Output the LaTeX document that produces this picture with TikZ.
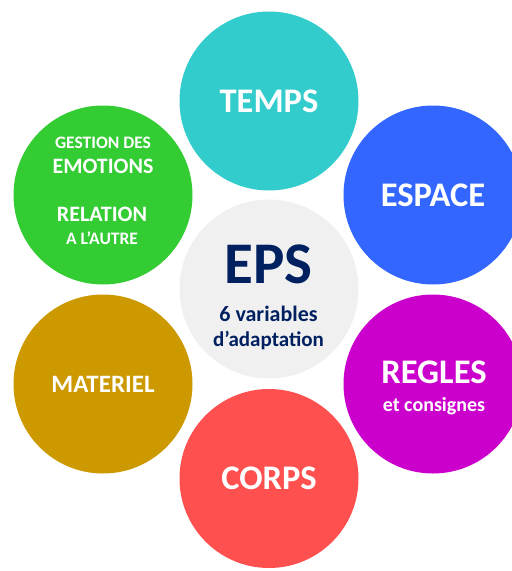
\documentclass[tikz,border=0pt]{standalone}
\usepackage{fontspec}
\setmainfont{Carlito}
\usetikzlibrary{positioning}

\definecolor{cTemps}{HTML}{33CCCC}
\definecolor{cEspace}{HTML}{3366FF}
\definecolor{cRegles}{HTML}{CC00CC}
\definecolor{cCorps}{HTML}{FF5050}
\definecolor{cMateriel}{HTML}{CC9900}
\definecolor{cEmotions}{HTML}{33CC33}
\definecolor{cCentre}{HTML}{F0F0F0}
\definecolor{cNavy}{HTML}{002060}

\newcommand{\fsz}[1]{\fontsize{#1}{1.2\dimexpr #1pt\relax}\selectfont}

\begin{document}
\begin{tikzpicture}[x=1pt,y=-1pt,
    bubble/.style={circle,minimum size=179pt,inner sep=0pt,text=white,font=\bfseries\fsz{34.5}},
    txt/.style={anchor=base,inner sep=0pt,text=white,font=\bfseries}]

     \clip (0,0) rectangle (512,571);

     % ring of variables
     \node[bubble, fill=cTemps]    (temps)    at (269,101)   {TEMPS};
     \node[bubble, fill=cEspace]   (espace)   at (433,195)   {ESPACE};
     \node[bubble, fill=cRegles]   (regles)   at (433,384)   {};
     \node[bubble, fill=cCorps]    (corps)    at (269,478.5) {CORPS};
     \node[bubble, fill=cMateriel, font=\bfseries\fsz{25}] (materiel) at (103,384) {MATERIEL};
     \node[bubble, fill=cEmotions] (emotions) at (103,195)   {};

     % centre
     \node[bubble, fill=cCentre]   (eps)      at (269,289)   {};

     % multi-line texts
     \node[txt, font=\bfseries\fsz{34.5}] (regles1) at (434,383.3) {REGLES};
     \node[txt, font=\bfseries\fsz{20}]   (regles2) at (434,411.7) {et consignes};

     \node[txt, font=\bfseries\fsz{17.5}] (emo1) at (103,148.3) {GESTION DES};
     \node[txt, font=\bfseries\fsz{22}]   (emo2) at (103,173.3) {EMOTIONS};
     \node[txt, font=\bfseries\fsz{22}]   (emo3) at (102,221.7) {RELATION};
     \node[txt, font=\bfseries\fsz{17.5}] (emo4) at (102,244.3) {A L’AUTRE};

     \node[txt, text=cNavy, font=\bfseries\fsz{59}] (eps1) at (268.5,283.3) {EPS};
     \node[txt, text=cNavy, font=\bfseries\fsz{22}] (eps2) at (268.5,321.7) {6 variables};
     \node[txt, text=cNavy, font=\bfseries\fsz{21}] (eps3) at (268.5,346.7) {d’adaptation};

\end{tikzpicture}
\end{document}
